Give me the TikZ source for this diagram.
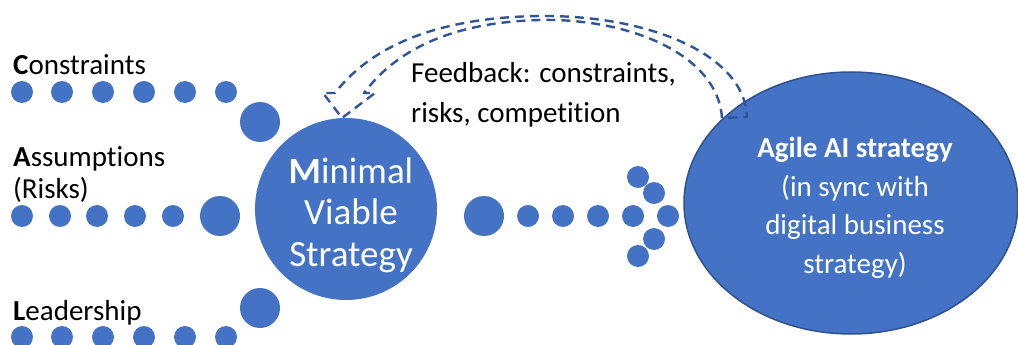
\documentclass[tikz,border=0pt]{standalone}
\usepackage{fontspec}
\setmainfont{Carlito}[Ligatures={NoCommon,NoContextual}]
\usetikzlibrary{shapes.geometric}
\definecolor{dotblue}{RGB}{68,114,196}
\definecolor{edgeblue}{RGB}{47,82,143}
\definecolor{dashblue}{RGB}{47,85,151}
\begin{document}
\begin{tikzpicture}[x=1pt,y=-1pt,
  dot/.style={circle,fill=dotblue,inner sep=0pt,minimum size=22pt},
  bigdot/.style={circle,fill=dotblue,inner sep=0pt,minimum size=40pt},
  lab/.style={anchor=base west,inner sep=0pt,font=\fontsize{29}{35}\selectfont},
  wlab/.style={anchor=base,inner sep=0pt,text=white,font=\fontsize{29}{35}\selectfont},
  mlab/.style={anchor=base,inner sep=0pt,text=white,font=\fontsize{37}{44}\selectfont},
  fbarrow/.style={draw=dashblue,line width=2.4pt,dash pattern=on 9pt off 6pt,line join=round}]
\useasboundingbox (0,0) rectangle (1018,345);
% top row (Constraints)
\foreach \x [count=\i] in {22,62,103,144,185,226} \node[dot] (c\i) at (\x,92) {};
\node[bigdot] (cb) at (260,122) {};
% middle row (Assumptions)
\foreach \x [count=\i] in {22,60,97,135,173} \node[dot] (a\i) at (\x,216) {};
\node[bigdot] (ab) at (220,216) {};
% bottom row (Leadership)
\node[bigdot] (lb) at (260,308) {};
\foreach \x [count=\i] in {22,62,103,144,185,226} \node[dot] (l\i) at (\x,337) {};
% right side
\node[bigdot] (rb) at (484,216) {};
\foreach \x [count=\i] in {528,563,598,633,668} \node[dot] (r\i) at (\x,216) {};
\node[dot] (h1) at (638,177) {};
\node[dot] (h2) at (654,193) {};
\node[dot] (h3) at (654,239) {};
\node[dot] (h4) at (638,256) {};
% main circle
\node[circle,fill=dotblue,inner sep=0pt,minimum size=182pt] (main) at (346,209) {};
\node[mlab] (m1) at (351,183) {\textbf{M}inimal};
\node[mlab] (m2) at (351,224) {Viable};
\node[mlab] (m3) at (351,266) {Strategy};
% goal ellipse
\node[ellipse,fill=dotblue,draw=edgeblue,line width=1.5pt,inner sep=0pt,minimum width=334pt,minimum height=262pt] (goal) at (851,203) {};
\node[wlab] (g1) at (855,157) {\textbf{Agile AI strategy}};
\node[wlab] (g2) at (855,196) {(in sync with};
\node[wlab] (g3) at (855,234) {digital business};
\node[wlab] (g4) at (855,273) {strategy)};
% left labels
\node[lab] (tc) at (13,75) {\textbf{C}onstraints};
\node[lab] (ta) at (13,166) {\textbf{A}ssumptions};
\node[lab] (tr) at (13,198) {(Risks)};
\node[lab] (tl) at (13,320) {\textbf{L}eadership};
% feedback label
\node[lab] (f1) at (411,83) {Feedback: constraints,};
\node[lab] (f2) at (411,122) {risks, competition};
% feedback curved arrow (outline shape)
\draw[fbarrow]
  (722,118) .. controls (718,55) and (630,18) .. (540,20)
  .. controls (460,22) and (400,45) .. (364,93)
  -- (375,93) -- (342,118) -- (323,93) -- (335,93)
  .. controls (380,35) and (460,17) .. (540,16)
  .. controls (650,15) and (745,55) .. (747,117) -- cycle;
\end{tikzpicture}
\end{document}
